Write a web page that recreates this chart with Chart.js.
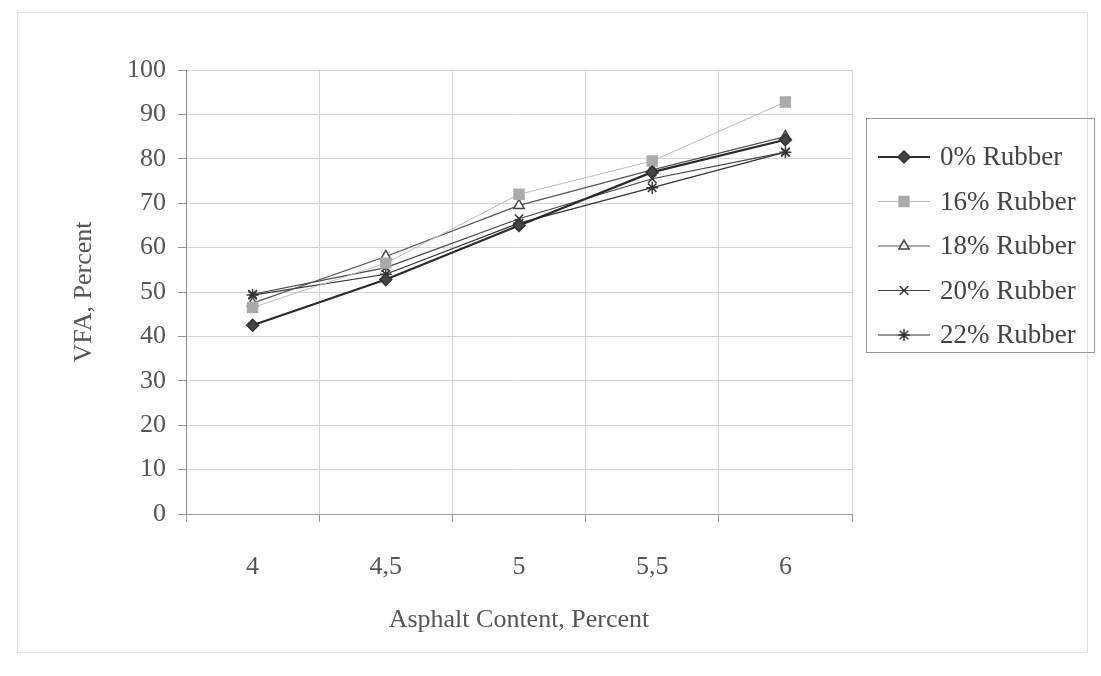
<!DOCTYPE html>
<html>
<head>
<meta charset="utf-8">
<script src="https://cdn.jsdelivr.net/npm/chart.js@4.4.1/dist/chart.umd.min.js"></script>
<style>
  body { margin: 0; background: #fff; }
  #wrap { width: 1101px; height: 676px; }
</style>
</head>
<body>
<div id="wrap"><canvas id="chart1" width="1101" height="676"></canvas></div>
<script>
// asphalt content (x categories)
var asphaltContent = ["4", "4,5", "5", "5,5", "6"]
var yTicks = [0, 10, 20, 30, 40, 50, 60, 70, 80, 90, 100]

// VFA values
var rubber0 = [42.5, 52.8, 65, 77, 84.3]
var rubber16 = [46.5, 56.5, 72, 79.5, 92.8]
var rubber18 = [47.5, 58, 69.5, 77.5, 85]
var rubber20 = [49.5, 55.5, 66.5, 75.5, 81.5]
var rubber22 = [49.3, 54, 65.5, 73.5, 81.5]

var seriesNames = ["0% Rubber", "16% Rubber", "18% Rubber", "20% Rubber", "22% Rubber"]

var serif = "'Liberation Serif', 'Times New Roman', serif"

function makeSet(name, data, color, width, style, fill, radius, border) {
  return {
    label: name,
    data: data,
    borderColor: color,
    borderWidth: width,
    pointStyle: style,
    pointBackgroundColor: fill,
    pointBorderColor: border,
    pointBorderWidth: 1.5,
    pointRadius: radius,
    tension: 0
  }
}

// draws the boxed legend with a line sample + marker, like the original
var boxLegend = {
  id: "boxLegend",
  afterDraw: function (chart) {
    var ctx = chart.ctx
    ctx.save()
    // faint outer frame
    ctx.strokeStyle = "#e2e2e2"
    ctx.lineWidth = 1
    ctx.strokeRect(17.5, 12.5, 1070, 640)

    ctx.strokeStyle = "#999"
    ctx.strokeRect(866.5, 118.5, 228, 234)

    var top = 157
    chart.data.datasets.forEach(function (ds, i) {
      var y = top + i * 44.5
      ctx.strokeStyle = ds.borderColor
      ctx.lineWidth = ds.borderWidth
      ctx.beginPath()
      ctx.moveTo(878, y)
      ctx.lineTo(930, y)
      ctx.stroke()
      ctx.fillStyle = ds.pointBackgroundColor
      ctx.strokeStyle = ds.pointBorderColor
      ctx.lineWidth = 1.5
      Chart.helpers.drawPoint(ctx, {pointStyle: ds.pointStyle, radius: ds.pointRadius, rotation: 0, borderWidth: 1.5}, 904, y)
      ctx.fillStyle = "#444"
      ctx.font = "27px " + serif
      ctx.textBaseline = "middle"
      ctx.textAlign = "left"
      ctx.fillText(ds.label, 940, y + 1)
    })
    ctx.restore()
  }
}

var c1 = document.getElementById("chart1").getContext("2d")
var vfaChart = new Chart(c1, {
  type: "line",
  data: {
    labels: asphaltContent,
    datasets: [
      makeSet(seriesNames[0], rubber0, "#2a2a2a", 2.2, "rectRot", "#444", 6, "#333"),
      makeSet(seriesNames[1], rubber16, "#bbb", 1, "rect", "#aaa", 7, "#aaa"),
      makeSet(seriesNames[2], rubber18, "#555", 1.2, "triangle", "#fff", 6, "#444"),
      makeSet(seriesNames[3], rubber20, "#444", 1.2, "crossRot", "#444", 6, "#333"),
      makeSet(seriesNames[4], rubber22, "#333", 1.2, "star", "#333", 6, "#333")
    ]
  },
  options: {
    responsive: false,
    animation: false,
    layout: { padding: { left: 60, top: 70, right: 249, bottom: 36 } },
    plugins: {
      legend: { display: false },
      tooltip: { enabled: false }
    },
    scales: {
      x: {
        offset: true,
        grid: { offset: true, color: "#d4d4d4", tickLength: 8, tickColor: "#999" },
        border: { color: "#999" },
        ticks: { color: "#555", font: { family: serif, size: 26 }, padding: 30 },
        title: { display: true, text: "Asphalt Content, Percent", color: "#555", font: { family: serif, size: 26 }, padding: { top: 0, bottom: 4 } },
        afterFit: function (scale) { scale.height = 126 }
      },
      y: {
        min: 0,
        max: 100,
        afterBuildTicks: function (scale) { scale.ticks = yTicks.map(function (v) { return { value: v } }) },
        grid: { color: "#d4d4d4", tickLength: 8, tickColor: "#999" },
        border: { color: "#888" },
        ticks: { color: "#555", font: { family: serif, size: 26 }, padding: 12 },
        title: { display: true, text: "VFA, Percent", color: "#555", font: { family: serif, size: 26 }, padding: { top: 9, bottom: 0 } },
        afterFit: function (scale) { scale.width = 126 }
      }
    }
  },
  plugins: [boxLegend]
})
</script>
</body>
</html>
